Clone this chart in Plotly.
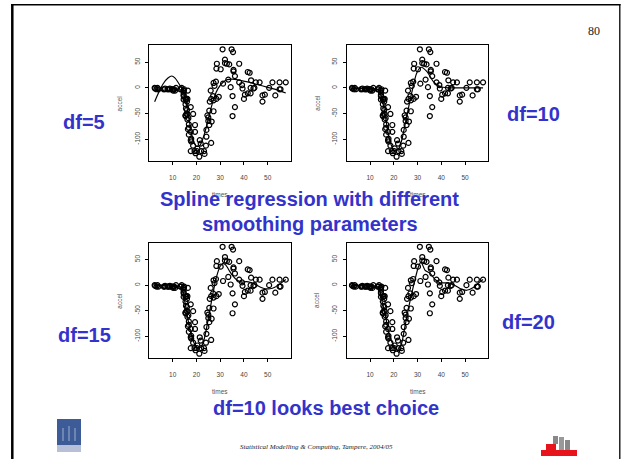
import plotly.graph_objects as go

W, H = 621, 459

# ---------------- data (mcycle) ----------------
times = [2.4, 2.6, 3.2, 3.6, 4.0, 6.2, 6.6, 6.8, 7.8, 8.2,
         8.8, 8.8, 9.6, 10.0, 10.2, 10.6, 11.0, 11.4, 13.2, 13.6,
         13.8, 14.6, 14.6, 14.6, 14.6, 14.6, 14.6, 14.8, 15.4, 15.4,
         15.4, 15.4, 15.6, 15.6, 15.8, 15.8, 16.0, 16.0, 16.2, 16.2,
         16.2, 16.4, 16.4, 16.6, 16.8, 16.8, 16.8, 17.6, 17.6, 17.6,
         17.6, 17.8, 17.8, 18.6, 18.6, 19.2, 19.4, 19.4, 19.6, 20.2,
         20.4, 21.2, 21.4, 21.8, 22.0, 23.2, 23.4, 24.0, 24.2, 24.2,
         24.6, 25.0, 25.0, 25.4, 25.4, 25.6, 26.0, 26.2, 26.2, 26.4,
         27.0, 27.2, 27.2, 27.2, 27.6, 28.2, 28.4, 28.4, 28.6, 29.4,
         30.2, 31.0, 31.2, 32.0, 32.0, 32.8, 33.4, 33.8, 34.4, 34.8,
         35.2, 35.2, 35.4, 35.6, 35.6, 36.2, 36.2, 38.0, 38.0, 39.2,
         39.4, 40.0, 40.4, 41.6, 41.6, 42.4, 42.8, 42.8, 43.0, 44.0,
         44.4, 45.0, 46.6, 47.8, 47.8, 48.8, 50.6, 52.0, 53.2, 55.0,
         55.0, 55.4, 57.6]
accel = [0.0, -1.3, -2.7, 0.0, -2.7, -2.7, -2.7, -1.3, -2.7, -2.7,
         -1.3, -2.7, -2.7, -2.7, -5.4, -2.7, -5.4, 0.0, -2.7, -2.7,
         0.0, -13.3, -5.4, -5.4, -9.3, -16.0, -22.8, -2.7, -22.8, -32.1,
         -53.5, -54.9, -40.2, -21.5, -21.5, -50.8, -42.9, -26.8, -21.5, -50.8,
         -61.7, -5.4, -80.4, -59.0, -71.0, -91.1, -77.7, -37.5, -85.6, -123.1,
         -101.9, -99.1, -104.4, -112.5, -50.8, -123.1, -85.6, -72.3, -127.2, -123.1,
         -117.9, -134.0, -101.9, -108.4, -123.1, -123.1, -128.5, -112.5, -95.1, -81.8,
         -53.5, -64.4, -57.6, -72.3, -44.3, -26.8, -5.4, -107.1, -21.5, -65.6,
         -16.0, -45.6, -24.2, 9.5, 4.0, 12.0, -21.5, 37.5, 46.9, -17.4,
         36.2, 75.0, 8.1, 54.9, 48.2, 46.9, 16.0, 45.6, 1.3, 75.0,
         -16.0, -54.9, 69.6, 34.8, 32.1, -37.5, 22.8, 46.9, 10.7, 5.4,
         -1.3, -21.5, -13.3, 30.8, -10.7, 29.4, 0.0, -10.7, 14.7, -1.3,
         0.0, 10.7, 10.7, -26.8, -14.7, -13.3, 0.0, 10.7, -14.7, -2.7,
         10.7, -2.7, 10.7]

# fitted spline curves
df5_x = [2.4, 4, 6, 8, 9.6, 11, 12.5, 14, 15.5, 17, 18.5, 20, 21.5, 23, 24.5,
         26, 27.5, 29, 31, 33, 35, 38, 42, 46, 50, 54, 57.6]
df5_y = [-27, -10, 8, 19, 23, 19, 9, -3, -25, -65, -100, -114, -112, -95, -70,
         -42, -18, -2, 10, 16, 17, 15, 11, 6, 1, -4, -10]

df10_x = [2.4, 6, 10, 12, 13.5, 14.9, 16.3, 17.7, 19.1, 20.5, 21.9, 23.3, 25.4,
          27.5, 29.6, 31.5, 33.9, 36.7, 39.5, 43, 48, 53, 57.6]
df10_y = [-1, -1, -2, -2, -4, -18, -50, -90, -113, -123, -120, -103, -57,
          -11, 28, 40, 32, 12, 2, 0, 0, 0, 0]

df15_x = [2.4, 6, 10, 12.5, 14, 15, 16, 17, 18, 19, 20, 21, 22, 23, 24, 25, 26,
          27, 28, 29, 30, 31, 32, 33, 34, 35.5, 37, 39, 41, 43, 45, 47, 49, 51,
          53, 55, 57.6]
df15_y = [-1, -1, -2, -2, -8, -30, -55, -82, -100, -113, -120, -123, -120, -110,
          -90, -65, -40, -15, 8, 25, 37, 42, 41, 35, 27, 17, 10, 6, 7, 5, 1, -4,
          -7, -7, -4, 2, 11]

df20_x = [2.4, 6, 10, 12.5, 14, 15, 16.3, 17.7, 18.4, 19.8, 21.5, 23.3, 24.7,
          26.8, 28.9, 30.4, 31.5, 33.2, 35.3, 37.4, 39.5, 42.3, 45.1, 47.9, 50.7,
          53.5, 56.3, 57.6]
df20_y = [-1, -1, -2, -2, -8, -30, -55, -88, -101, -117, -127, -114, -81,
          -32, 10, 36, 45, 29, 23, 11, 4.5, 4.5, 1, -6.5, -10, -4.5, 6.5, 11]

x_ticks = [10, 20, 30, 40, 50]
y_ticks = [-100, -50, 0, 50]
y_tick_text = ["-100", "-50", "0", "50"]
panel_labels = ["df=5", "df=10", "df=15", "df=20"]
title_lines = ["Spline regression with different", "smoothing parameters"]
conclusion = "df=10 looks best choice"
footer = "Statistical Modelling & Computing, Tampere, 2004/05"
page_no = "80"

# ---------------- layout helpers ----------------
def px(x):
    return x / W

def py(y):
    return 1 - y / H

BLUE = "#3333CC"
XR = [0.192, 59.808]
YR = [-142.36, 83.36]

# panel boxes in pixels: (left, right, top, bottom)
boxes = [(149.4, 291.0, 45.0, 161.0),
         (346.7, 488.3, 45.0, 161.0),
         (149.4, 291.0, 242.5, 358.0),
         (346.7, 488.3, 242.5, 358.0)]
curves = [(df5_x, df5_y), (df10_x, df10_y), (df15_x, df15_y), (df20_x, df20_y)]

fig = go.Figure()
tickfont = dict(family="Arial", size=6.5, color="#444")
annotations = []

for i, ((l, r, t, b), (cx, cy)) in enumerate(zip(boxes, curves)):
    n = i + 1
    xa = "x" if n == 1 else f"x{n}"
    ya = "y" if n == 1 else f"y{n}"
    fig.add_trace(go.Scatter(x=times, y=accel, mode="markers", xaxis=xa, yaxis=ya,
                             marker=dict(symbol="circle-open", size=5,
                                         color="black", line=dict(width=1.2, color="black")),
                             showlegend=False, hoverinfo="skip"))
    fig.add_trace(go.Scatter(x=cx, y=cy, mode="lines", xaxis=xa, yaxis=ya,
                             line=dict(color="black", width=1.2, shape="spline", smoothing=0.6),
                             showlegend=False, hoverinfo="skip"))
    xkey = "xaxis" if n == 1 else f"xaxis{n}"
    ykey = "yaxis" if n == 1 else f"yaxis{n}"
    fig.update_layout({
        xkey: dict(domain=[px(l), px(r)], range=XR, anchor=ya,
                   tickvals=x_ticks, ticks="outside", ticklen=3, tickwidth=1,
                   tickcolor="black", showline=True, linecolor="black", linewidth=1.1,
                   mirror=True, showgrid=False, zeroline=False, tickfont=tickfont,
                   ticklabelstandoff=7, fixedrange=True),
        ykey: dict(domain=[py(b), py(t)], range=YR, anchor=xa,
                   tickvals=y_ticks, ticktext=y_tick_text, ticks="outside", ticklen=3,
                   tickwidth=1, tickcolor="black", showline=True, linecolor="black",
                   linewidth=1.1, mirror=True, showgrid=False, zeroline=False,
                   tickfont=tickfont, tickangle=-90, ticklabelstandoff=3, fixedrange=True),
    })
    # axis titles
    annotations.append(dict(x=px((l + r) / 2), y=py(b + 33 if n <= 2 else b + 33.7),
                            xref="paper", yref="paper", text="times", showarrow=False,
                            font=dict(family="Arial", size=6.5, color="#555"),
                            xanchor="center", yanchor="middle"))
    annotations.append(dict(x=px(l - 30), y=py((t + b) / 2), xref="paper", yref="paper",
                            text="accel", showarrow=False, textangle=-90,
                            font=dict(family="Arial", size=6.5, color="#555"),
                            xanchor="center", yanchor="middle"))

label_pos = [(84, 122), (533, 114), (84.5, 335), (528, 322)]
for txt, (lx, ly) in zip(panel_labels, label_pos):
    annotations.append(dict(x=px(lx), y=py(ly), xref="paper", yref="paper", text=f"<b>{txt}</b>",
                            showarrow=False, font=dict(family="Arial", size=20, color=BLUE),
                            xanchor="center", yanchor="middle"))

annotations.append(dict(x=px(309.5), y=py(198.5), xref="paper", yref="paper",
                        text=f"<b>{title_lines[0]}</b>", showarrow=False,
                        font=dict(family="Arial", size=20, color=BLUE),
                        xanchor="center", yanchor="middle"))
annotations.append(dict(x=px(309.5), y=py(224), xref="paper", yref="paper",
                        text=f"<b>{title_lines[1]}</b>", showarrow=False,
                        font=dict(family="Arial", size=20, color=BLUE),
                        xanchor="center", yanchor="middle"))
annotations.append(dict(x=px(325.5), y=py(408), xref="paper", yref="paper",
                        text=f"<b>{conclusion}</b>", showarrow=False,
                        font=dict(family="Arial", size=20, color=BLUE),
                        xanchor="center", yanchor="middle"))
annotations.append(dict(x=px(316.5), y=py(446.7), xref="paper", yref="paper",
                        text=f"<i>{footer}</i>", showarrow=False,
                        font=dict(family="Liberation Serif", size=7, color="#222"),
                        xanchor="center", yanchor="middle"))
annotations.append(dict(x=px(594), y=py(31), xref="paper", yref="paper",
                        text=page_no, showarrow=False,
                        font=dict(family="Liberation Serif", size=12, color="#222"),
                        xanchor="center", yanchor="middle"))

shapes = [
    dict(type="line", xref="paper", yref="paper", x0=px(12.3), x1=px(12.3), y0=py(4), y1=py(459),
         line=dict(color="black", width=2.5)),
    dict(type="line", xref="paper", yref="paper", x0=px(11), x1=px(620.5), y0=py(4.8), y1=py(4.8),
         line=dict(color="black", width=1.5)),
    dict(type="line", xref="paper", yref="paper", x0=px(619.8), x1=px(619.8), y0=py(4), y1=py(459),
         line=dict(color="black", width=1.3)),
    # left logo
    dict(type="rect", xref="paper", yref="paper", x0=px(57), x1=px(81), y0=py(445), y1=py(419),
         fillcolor="#3d5b96", line=dict(width=0)),
    dict(type="rect", xref="paper", yref="paper", x0=px(57), x1=px(81), y0=py(452), y1=py(445),
         fillcolor="#b8c0d8", line=dict(width=0)),
    dict(type="line", xref="paper", yref="paper", x0=px(63), x1=px(63), y0=py(441), y1=py(428),
         line=dict(color="#9fb0d0", width=1)),
    dict(type="line", xref="paper", yref="paper", x0=px(69), x1=px(69), y0=py(441), y1=py(426),
         line=dict(color="#9fb0d0", width=1)),
    dict(type="line", xref="paper", yref="paper", x0=px(75), x1=px(75), y0=py(441), y1=py(428),
         line=dict(color="#9fb0d0", width=1)),
    # right logo
    dict(type="rect", xref="paper", yref="paper", x0=px(541), x1=px(577), y0=py(456), y1=py(450),
         fillcolor="#e8141c", line=dict(width=0)),
    dict(type="rect", xref="paper", yref="paper", x0=px(546), x1=px(556), y0=py(450), y1=py(444),
         fillcolor="#e8141c", line=dict(width=0)),
    dict(type="rect", xref="paper", yref="paper", x0=px(553), x1=px(558), y0=py(444), y1=py(436),
         fillcolor="#888", line=dict(width=0)),
    dict(type="rect", xref="paper", yref="paper", x0=px(559), x1=px(564), y0=py(450), y1=py(437),
         fillcolor="#999", line=dict(width=0)),
    dict(type="rect", xref="paper", yref="paper", x0=px(565), x1=px(570), y0=py(450), y1=py(440),
         fillcolor="#888", line=dict(width=0)),
]

fig.update_layout(width=W, height=H, margin=dict(l=0, r=0, t=0, b=0),
                  paper_bgcolor="white", plot_bgcolor="white",
                  annotations=annotations, shapes=shapes, showlegend=False)

fig.write_html("out.html")
